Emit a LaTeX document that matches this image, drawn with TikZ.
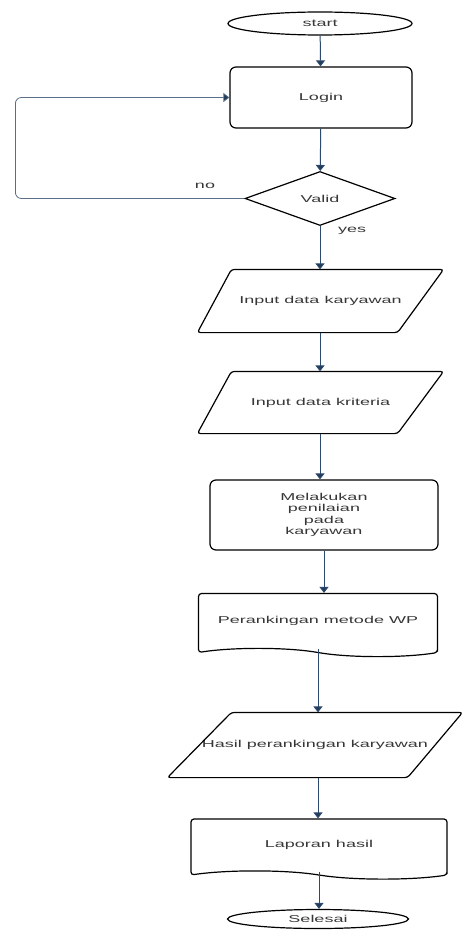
\documentclass[tikz,border=0pt]{standalone}
\usepackage{fontspec}
\newfontfamily\flowfont[FakeStretch=1.8]{Liberation Sans}
\usetikzlibrary{arrows.meta,shapes.geometric,shapes.symbols}

\definecolor{flowline}{RGB}{44,74,110}
\definecolor{loopline}{RGB}{90,110,135}
\definecolor{flowtext}{RGB}{55,55,55}

\tikzset{
    box/.style={draw, line width=1.2pt, text=flowtext, inner sep=2pt,
        font=\flowfont\fontsize{10}{11.5}\selectfont, align=center},
    terminal/.style={box, ellipse},
    process/.style={box, rectangle, rounded corners=6pt},
    decision/.style={box, diamond},
    inout/.style={box, rectangle, draw=none},
    slanted/.style={draw, line width=1.2pt, rounded corners=3pt},
    docshape/.style={box, tape, tape bend top=none, tape bend bottom=out and in,
        tape bend height=8pt, rounded corners=3pt},
    flow/.style={draw=flowline, line width=1pt,
        -{Triangle[width=9pt,length=6pt,fill=flowline!80!black]}},
    lbl/.style={text=flowtext, font=\flowfont\fontsize{10}{12}\selectfont},
}

\begin{document}
\begin{tikzpicture}[x=1pt, y=-1pt]
        \useasboundingbox (0,0) rectangle (461,933);

        % Start and login
        \node[terminal, minimum width=184pt, minimum height=23pt] (start) at (320,23.5) {start};
        \node[process, minimum width=182pt, minimum height=61pt] (login) at (321,97.5) {Login};

        % Check the login
        \node[decision, minimum width=150pt, minimum height=43pt] (valid) at (320,198.5) {Valid};
        \node[lbl] (no) at (205,186) {no};
        \node[lbl] (yes) at (352,231) {yes};

        % Input data
        \node[inout, minimum width=245pt, minimum height=62pt] (karyawan) at (320.5,301) {Input data karyawan};
        \draw[slanted] ([xshift=34pt]karyawan.north west) -- (karyawan.north east)
            -- ([xshift=-46pt]karyawan.south east) -- (karyawan.south west) -- cycle;
        \node[inout, minimum width=245pt, minimum height=61pt] (kriteria) at (320.5,402.5) {Input data kriteria};
        \draw[slanted] ([xshift=34pt]kriteria.north west) -- (kriteria.north east)
            -- ([xshift=-46pt]kriteria.south east) -- (kriteria.south west) -- cycle;

        % Scoring and ranking
        \node[process, minimum width=228pt, minimum height=70pt] (nilai) at (324,515)
            {Melakukan\\penilaian\\pada\\karyawan};
        \node[docshape, minimum width=239pt, minimum height=63pt] (ranking) at (318,621)
            {Perankingan metode WP};

        % Output
        \node[inout, minimum width=294pt, minimum height=64pt] (hasil) at (315,745) {Hasil perankingan karyawan};
        \draw[slanted] ([xshift=64pt]hasil.north west) -- (hasil.north east)
            -- ([xshift=-55pt]hasil.south east) -- (hasil.south west) -- cycle;
        \node[docshape, minimum width=256pt, minimum height=60pt] (laporan) at (319,845) {Laporan hasil};
        \node[terminal, minimum width=181pt, minimum height=19pt] (selesai) at (318,919) {Selesai};

        % Arrows
        \draw[flow] (start) -- (login);
        \draw[flow] (login) -- (valid);
        \draw[flow] (valid) -- (valid.south |- karyawan.north);
        \draw[flow] (karyawan.south -| valid.south) -- (valid.south |- kriteria.north);
        \draw[flow] (kriteria.south -| valid.south) -- (valid.south |- nilai.north);
        \draw[flow] (nilai) -- (nilai.south |- ranking.north);
        \draw[flow] (ranking.south) -- (ranking.south |- hasil.north);
        \draw[flow] (hasil.south -| ranking.south) -- (ranking.south |- laporan.north);
        \draw[flow] (laporan.south) -- (laporan.south |- selesai.north);

        % Back to login when not valid
        \draw[flow, draw=loopline, line width=0.8pt, rounded corners=6pt]
            (valid.west) -- ++(-229,0) |- (login.west);
    \end{tikzpicture}
\end{document}
